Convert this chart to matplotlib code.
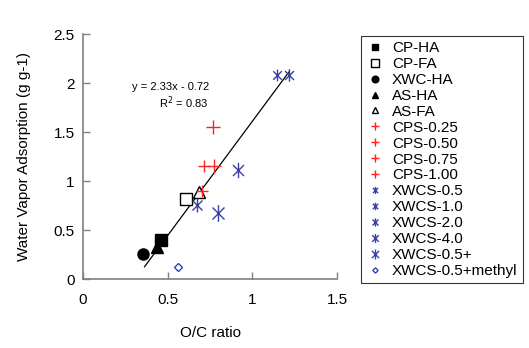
import numpy as np
import matplotlib
matplotlib.use('Agg')
import matplotlib.pyplot as plt
from matplotlib.path import Path

plt.rcParams['font.family'] = ['Liberation Sans', 'DejaVu Sans']

# O/C ratio and water vapor adsorption, one entry per sample
labels = ['CP-HA', 'CP-FA', 'XWC-HA', 'AS-HA', 'AS-FA',
          'CPS-0.25', 'CPS-0.50', 'CPS-0.75', 'CPS-1.00',
          'XWCS-0.5', 'XWCS-1.0', 'XWCS-2.0', 'XWCS-4.0', 'XWCS-0.5+',
          'XWCS-0.5+methyl']
oc = [0.462, 0.607, 0.357, 0.438, 0.685,
      0.702, 0.714, 0.774, 0.770,
      1.147, 1.216, 0.675, 0.915, 0.800,
      0.558]
wva = [0.40, 0.82, 0.26, 0.33, 0.89,
       0.90, 1.157, 1.15, 1.55,
       2.08, 2.08, 0.758, 1.117, 0.673,
       0.125]

# linear fit reported on the chart
slope, intercept = 2.33, -0.72
fit_x = [0.363, 1.216]

# asterisk marker: vertical bar plus an X
ast = Path([(0, -1), (0, 1), (-0.72, -0.72), (0.72, 0.72), (-0.72, 0.72), (0.72, -0.72)],
           [Path.MOVETO, Path.LINETO, Path.MOVETO, Path.LINETO, Path.MOVETO, Path.LINETO])

blk = 'black'
red = '#ff2020'
blu = '#3a3fa8'
styles = [
    dict(marker='s', mfc=blk, mec=blk, ms=8),
    dict(marker='s', mfc='white', mec=blk, ms=9, mew=1),
    dict(marker='o', mfc=blk, mec=blk, ms=8),
    dict(marker='^', mfc=blk, mec=blk, ms=8),
    dict(marker='^', mfc='white', mec=blk, ms=8, mew=1),
    dict(marker='+', mec=red, ms=9, mew=1),
    dict(marker='+', mec=red, ms=9, mew=1),
    dict(marker='+', mec=red, ms=10, mew=1),
    dict(marker='+', mec=red, ms=10, mew=1),
    dict(marker=ast, mec=blu, mfc='none', ms=8.5, mew=1),
    dict(marker=ast, mec=blu, mfc='none', ms=9, mew=1),
    dict(marker=ast, mec=blu, mfc='none', ms=10, mew=1),
    dict(marker=ast, mec=blu, mfc='none', ms=11, mew=1),
    dict(marker=ast, mec=blu, mfc='none', ms=12, mew=1),
    dict(marker='D', mfc='white', mec='#2030c0', ms=4.5, mew=0.9),
]

fig = plt.figure(figsize=(5.29, 3.48), dpi=100)
ax = fig.add_axes([0.157, 0.198, 0.48, 0.704])

x = np.array(fit_x)
ax.plot(x, slope * x + intercept, color='k', lw=0.9, zorder=1)

for lab, xv, yv, st in zip(labels, oc, wva, styles):
    ax.plot([xv], [yv], linestyle='none', label=lab, zorder=3, **st)

ax.text(0.29, 1.96, 'y = 2.33x - 0.72', fontsize=8, ha='left', va='center')
ax.text(0.45, 1.80, 'R$^2$ = 0.83', fontsize=8, ha='left', va='center')

ax.set_xlim(0, 1.5)
ax.set_ylim(0, 2.5)
ax.set_xticks([0, 0.5, 1, 1.5])
ax.set_xticklabels(['0', '0.5', '1', '1.5'])
ax.set_yticks([0, 0.5, 1, 1.5, 2, 2.5])
ax.set_yticklabels(['0', '0.5', '1', '1.5', '2', '2.5'])
for s in ['top', 'right']:
    ax.spines[s].set_visible(False)
for s in ['left', 'bottom']:
    ax.spines[s].set_color('#808080')
    ax.spines[s].set_linewidth(1.2)
ax.tick_params(direction='in', length=5, width=1, color='#808080', labelsize=11)
ax.tick_params(axis='x', pad=10)
ax.tick_params(axis='y', pad=6)
ax.set_xlabel('O/C ratio', fontsize=11, labelpad=14)
ax.set_ylabel('Water Vapor Adsorption (g g-1)', fontsize=11, labelpad=16)

leg = fig.legend(loc='upper left', bbox_to_anchor=(0.682, 0.897), fontsize=11,
                 frameon=True, fancybox=False, edgecolor='black', markerscale=0.6,
                 labelspacing=0.125, handlelength=1.2, handletextpad=0.5,
                 borderpad=0.35, borderaxespad=0, numpoints=1)
leg.get_frame().set_linewidth(0.8)

fig.savefig('out.png', dpi=100)
